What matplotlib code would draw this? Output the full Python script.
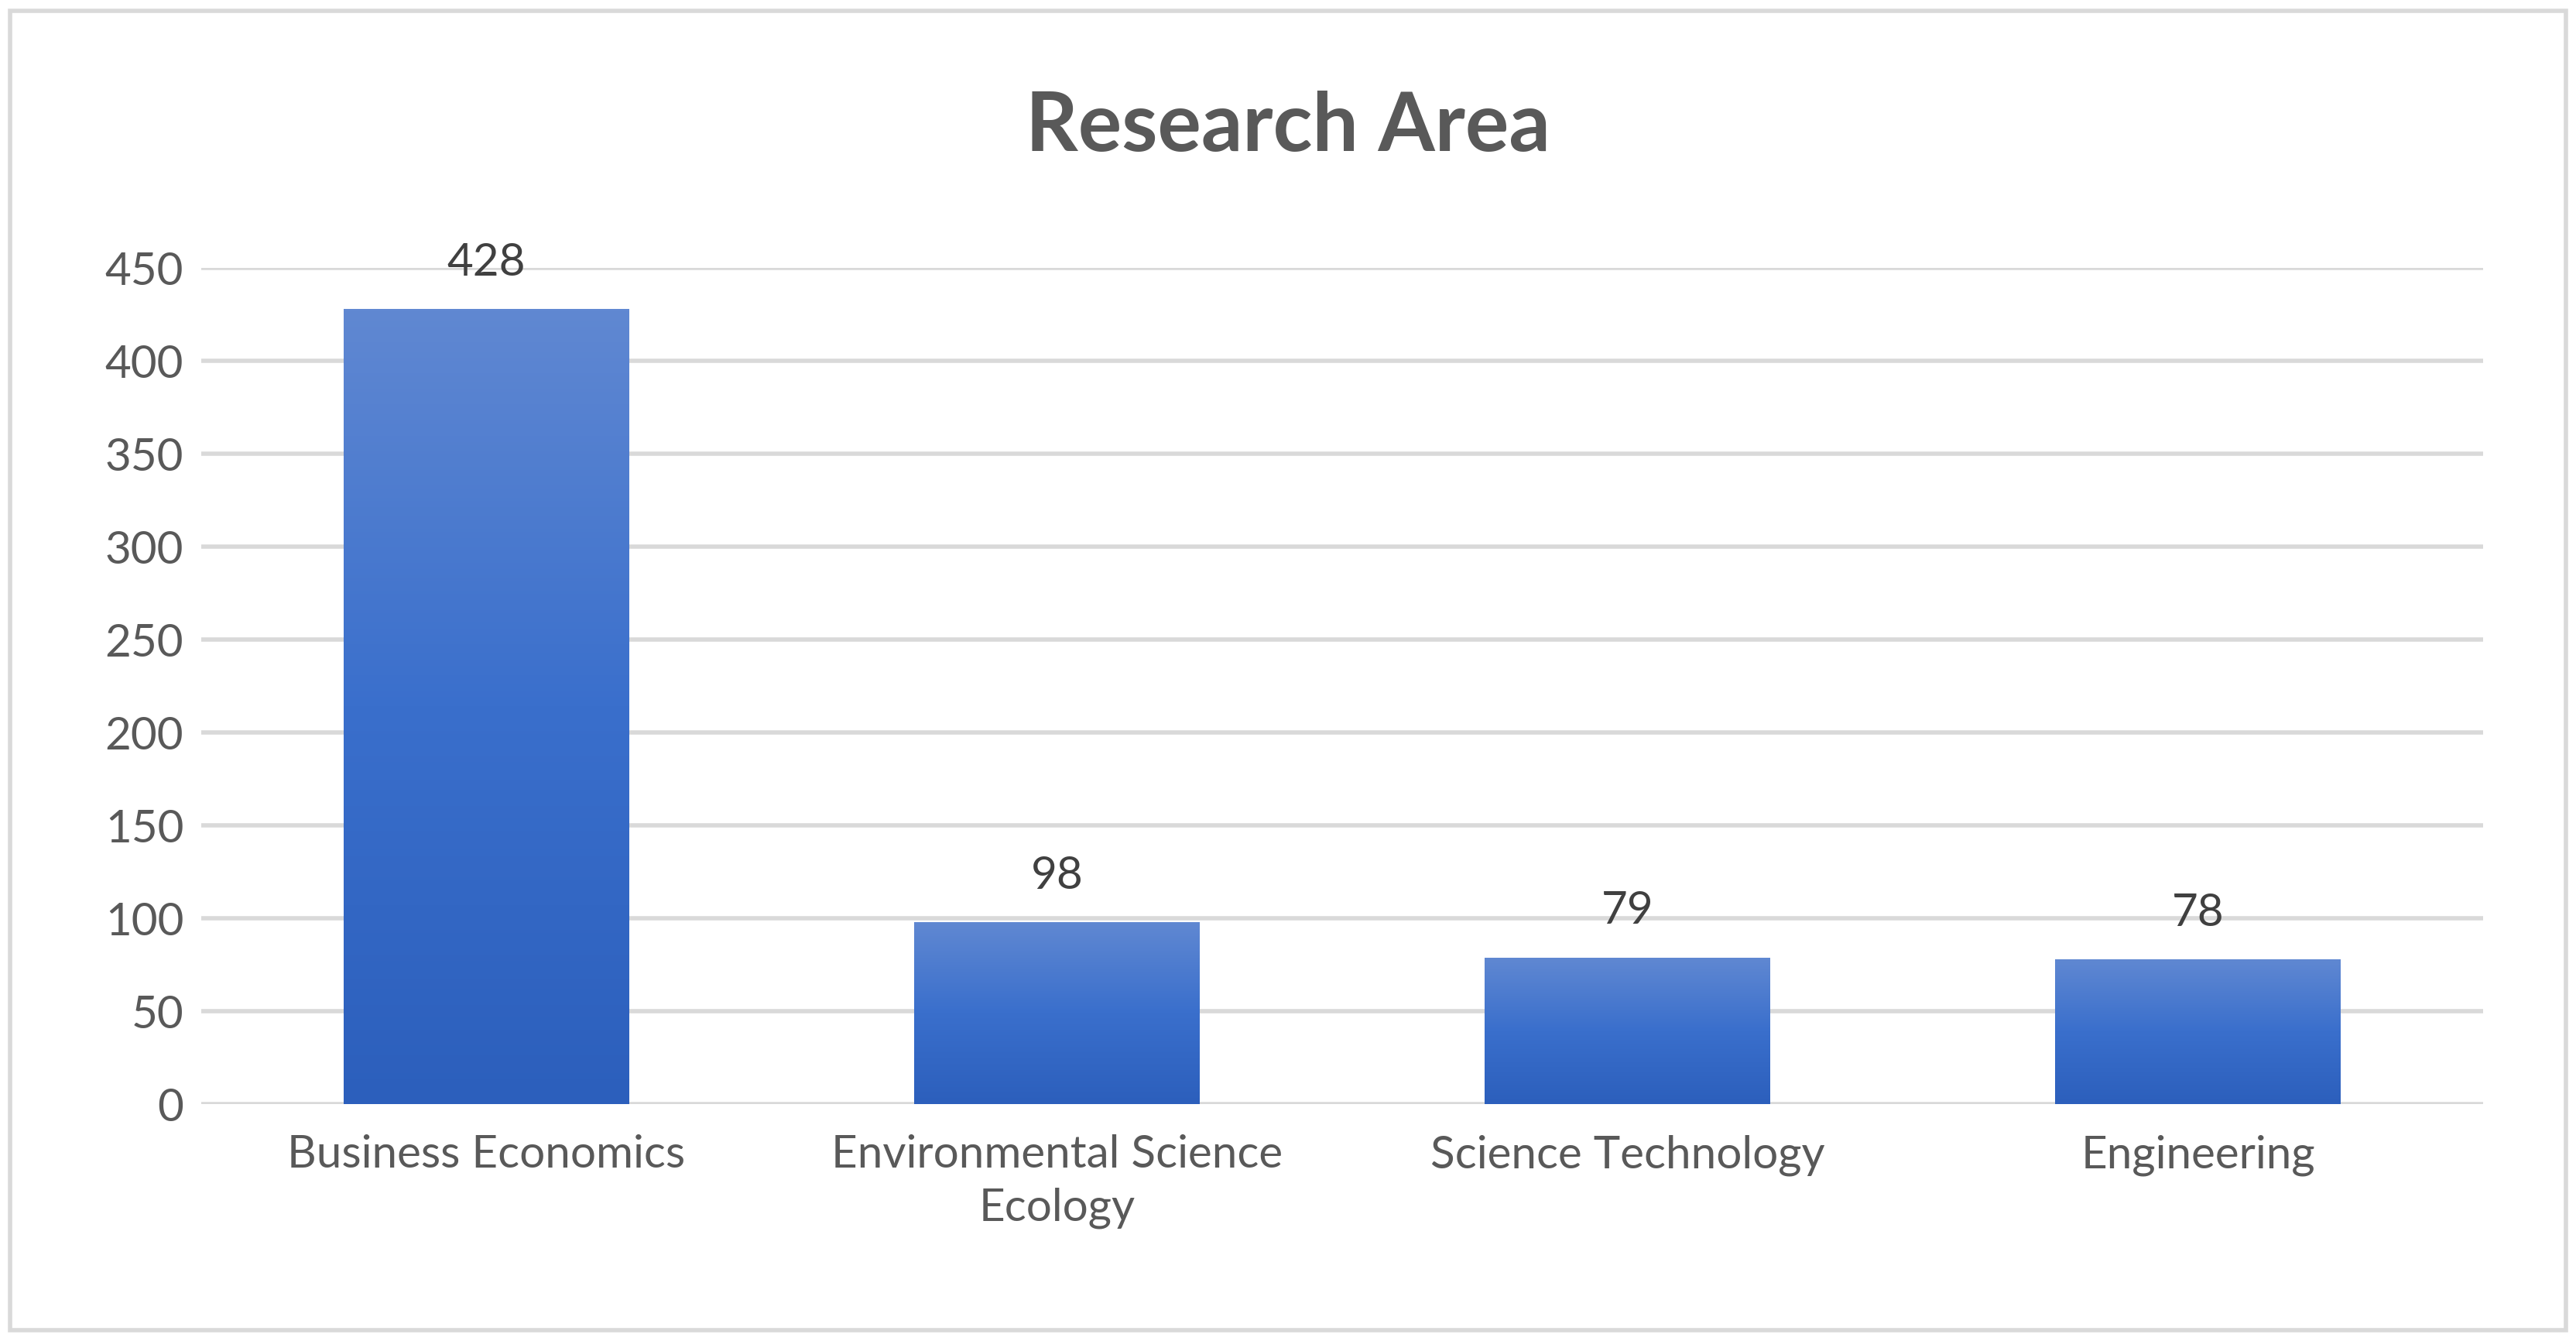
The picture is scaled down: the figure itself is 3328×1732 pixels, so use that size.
import matplotlib
matplotlib.use("Agg")
import matplotlib.pyplot as plt
import numpy as np
from matplotlib.colors import LinearSegmentedColormap
from matplotlib.patches import Rectangle

categories = ["Business Economics", "Environmental Science\nEcology", "Science Technology", "Engineering"]
values = [428, 98, 79, 78]
yticks = [0, 50, 100, 150, 200, 250, 300, 350, 400, 450]

plt.rcParams['font.family'] = ['Lato', 'DejaVu Sans']
fig = plt.figure(figsize=(16.64, 8.66), dpi=200)
ax = fig.add_axes([0.078, 0.1765, 0.886, 0.6235])
ax.set_xlim(-0.5, len(categories) - 0.5)
ax.set_ylim(0, 450)
ax.set_yticks(yticks)
ax.tick_params(axis='y', labelsize=21, colors='#595959', length=0, pad=8)
ax.tick_params(axis='x', labelsize=21, colors='#595959', length=0, pad=14)
ax.grid(axis='y', color='#D9D9D9', linewidth=2)
ax.set_axisbelow(True)
for s in ax.spines.values():
    s.set_visible(False)

cmap = LinearSegmentedColormap.from_list('g', ['#2C5FBC', '#3A6FCC', '#6088D2'])
grad = np.linspace(0, 1, 256).reshape(-1, 1)
w = 0.5
x = np.arange(len(categories))
bars = ax.bar(x, values, width=w, color='none', zorder=2)
for b, v in zip(bars, values):
    im = ax.imshow(grad, cmap=cmap, aspect='auto', origin='lower',
                   extent=[b.get_x(), b.get_x() + w, 0, v], zorder=2)
    im.set_clip_path(b)
    ax.text(b.get_x() + w / 2, v + 14, str(v), ha='center', va='bottom',
            fontsize=21, color='#404040')
ax.set_xticks(x)
ax.set_xticklabels(categories, linespacing=1.35)

fig.text(0.5, 0.905, "Research Area", ha='center', va='center', fontsize=38,
         fontweight='bold', color='#595959')
fig.patches.append(Rectangle((0.004, 0.008), 0.992, 0.984, transform=fig.transFigure,
                             fill=False, edgecolor='#D9D9D9', linewidth=2))
fig.savefig("out.png", dpi=200)
